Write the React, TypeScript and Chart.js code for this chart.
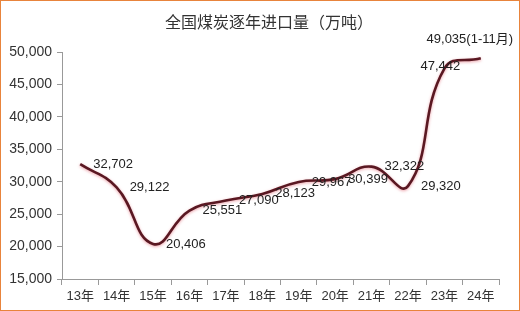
import React, { useEffect, useRef } from "react";
import { Chart, registerables } from "chart.js";

Chart.register(...registerables);

const categories = ["13年", "14年", "15年", "16年", "17年", "18年", "19年", "20年", "21年", "22年", "23年", "24年"];
const imports = [32702, 29122, 20406, 25551, 27090, 28123, 29967, 30399, 32322, 29320, 47442, 49035];
const valueLabels = ["32,702", "29,122", "20,406", "25,551", "27,090", "28,123", "29,967", "30,399", "32,322", "29,320", "47,442", "49,035(1-11月)"];
const titleText = "全国煤炭逐年进口量（万吨）";

const FONT = "'Liberation Sans', 'Noto Sans CJK SC', sans-serif";

const overlay = {
  id: "overlay",
  beforeDatasetsDraw(chart: any) {
    const ctx = chart.ctx;
    ctx.save();
    ctx.shadowColor = "rgba(230,130,140,0.75)";
    ctx.shadowBlur = 3;
    ctx.shadowOffsetX = 0;
    ctx.shadowOffsetY = 1;
  },
  afterDatasetsDraw(chart: any) {
    const ctx = chart.ctx;
    ctx.restore();
    const meta = chart.getDatasetMeta(0);
    ctx.save();
    ctx.font = "13px " + FONT;
    ctx.fillStyle = "#222";
    ctx.textBaseline = "middle";
    const last = meta.data.length - 1;
    meta.data.forEach((pt: any, i: number) => {
      const text = valueLabels[i];
      if (i === last) {
        ctx.textAlign = "center";
        ctx.fillText(text, pt.x - 11, pt.y - 19);
      } else if (i === last - 1) {
        ctx.textAlign = "center";
        ctx.fillText(text, pt.x - 4, pt.y - 2);
      } else {
        ctx.textAlign = "left";
        ctx.fillText(text, pt.x + 13, pt.y);
      }
    });
    ctx.font = "16px 'Noto Sans CJK SC', sans-serif";
    ctx.fillStyle = "#333";
    ctx.textAlign = "center";
    ctx.fillText(titleText, 268, 21);
    ctx.restore();
  },
};

export default function App() {
  const ref = useRef<HTMLCanvasElement | null>(null);
  useEffect(() => {
    document.body.style.margin = "0";
    if (!ref.current) return;
    const chart = new Chart(ref.current, {
      type: "line",
      data: {
        labels: categories,
        datasets: [
          {
            data: imports,
            borderColor: "#5a1822",
            borderWidth: 2.6,
            pointRadius: 0,
            tension: 0.45,
            fill: false,
            clip: false as any,
          },
        ],
      },
      options: {
        responsive: false,
        animation: false,
        layout: { padding: { left: 0, right: 20, top: 51, bottom: 0 } },
        plugins: { legend: { display: false }, tooltip: { enabled: false }, title: { display: false } },
        scales: {
          x: {
            offset: true,
            grid: { offset: true, drawOnChartArea: false, drawTicks: true, tickLength: 6, color: "#999" },
            border: { color: "#999" },
            ticks: { color: "#333", font: { size: 13, family: FONT }, padding: 4, maxRotation: 0 },
            afterFit: (s: any) => { s.height = 31; },
          },
          y: {
            min: 15000,
            max: 50000,
            ticks: {
              stepSize: 5000,
              color: "#333",
              font: { size: 14, family: FONT },
              padding: 5,
              callback: (v: any) => Number(v).toLocaleString("en-US"),
            },
            grid: { drawOnChartArea: false, drawTicks: true, tickLength: 5, color: "#999" },
            border: { color: "#999" },
            afterFit: (s: any) => { s.width = 61; },
          },
        },
      },
      plugins: [overlay],
    });
    return () => chart.destroy();
  }, []);
  return (
    <div
      style={{
        position: "fixed",
        left: 0,
        top: 0,
        width: 520,
        height: 311,
        boxSizing: "border-box",
        border: "1px solid #e8843c",
        background: "#fff",
      }}
    >
      <canvas ref={ref} width={518} height={309} style={{ display: "block" }} />
    </div>
  );
}
